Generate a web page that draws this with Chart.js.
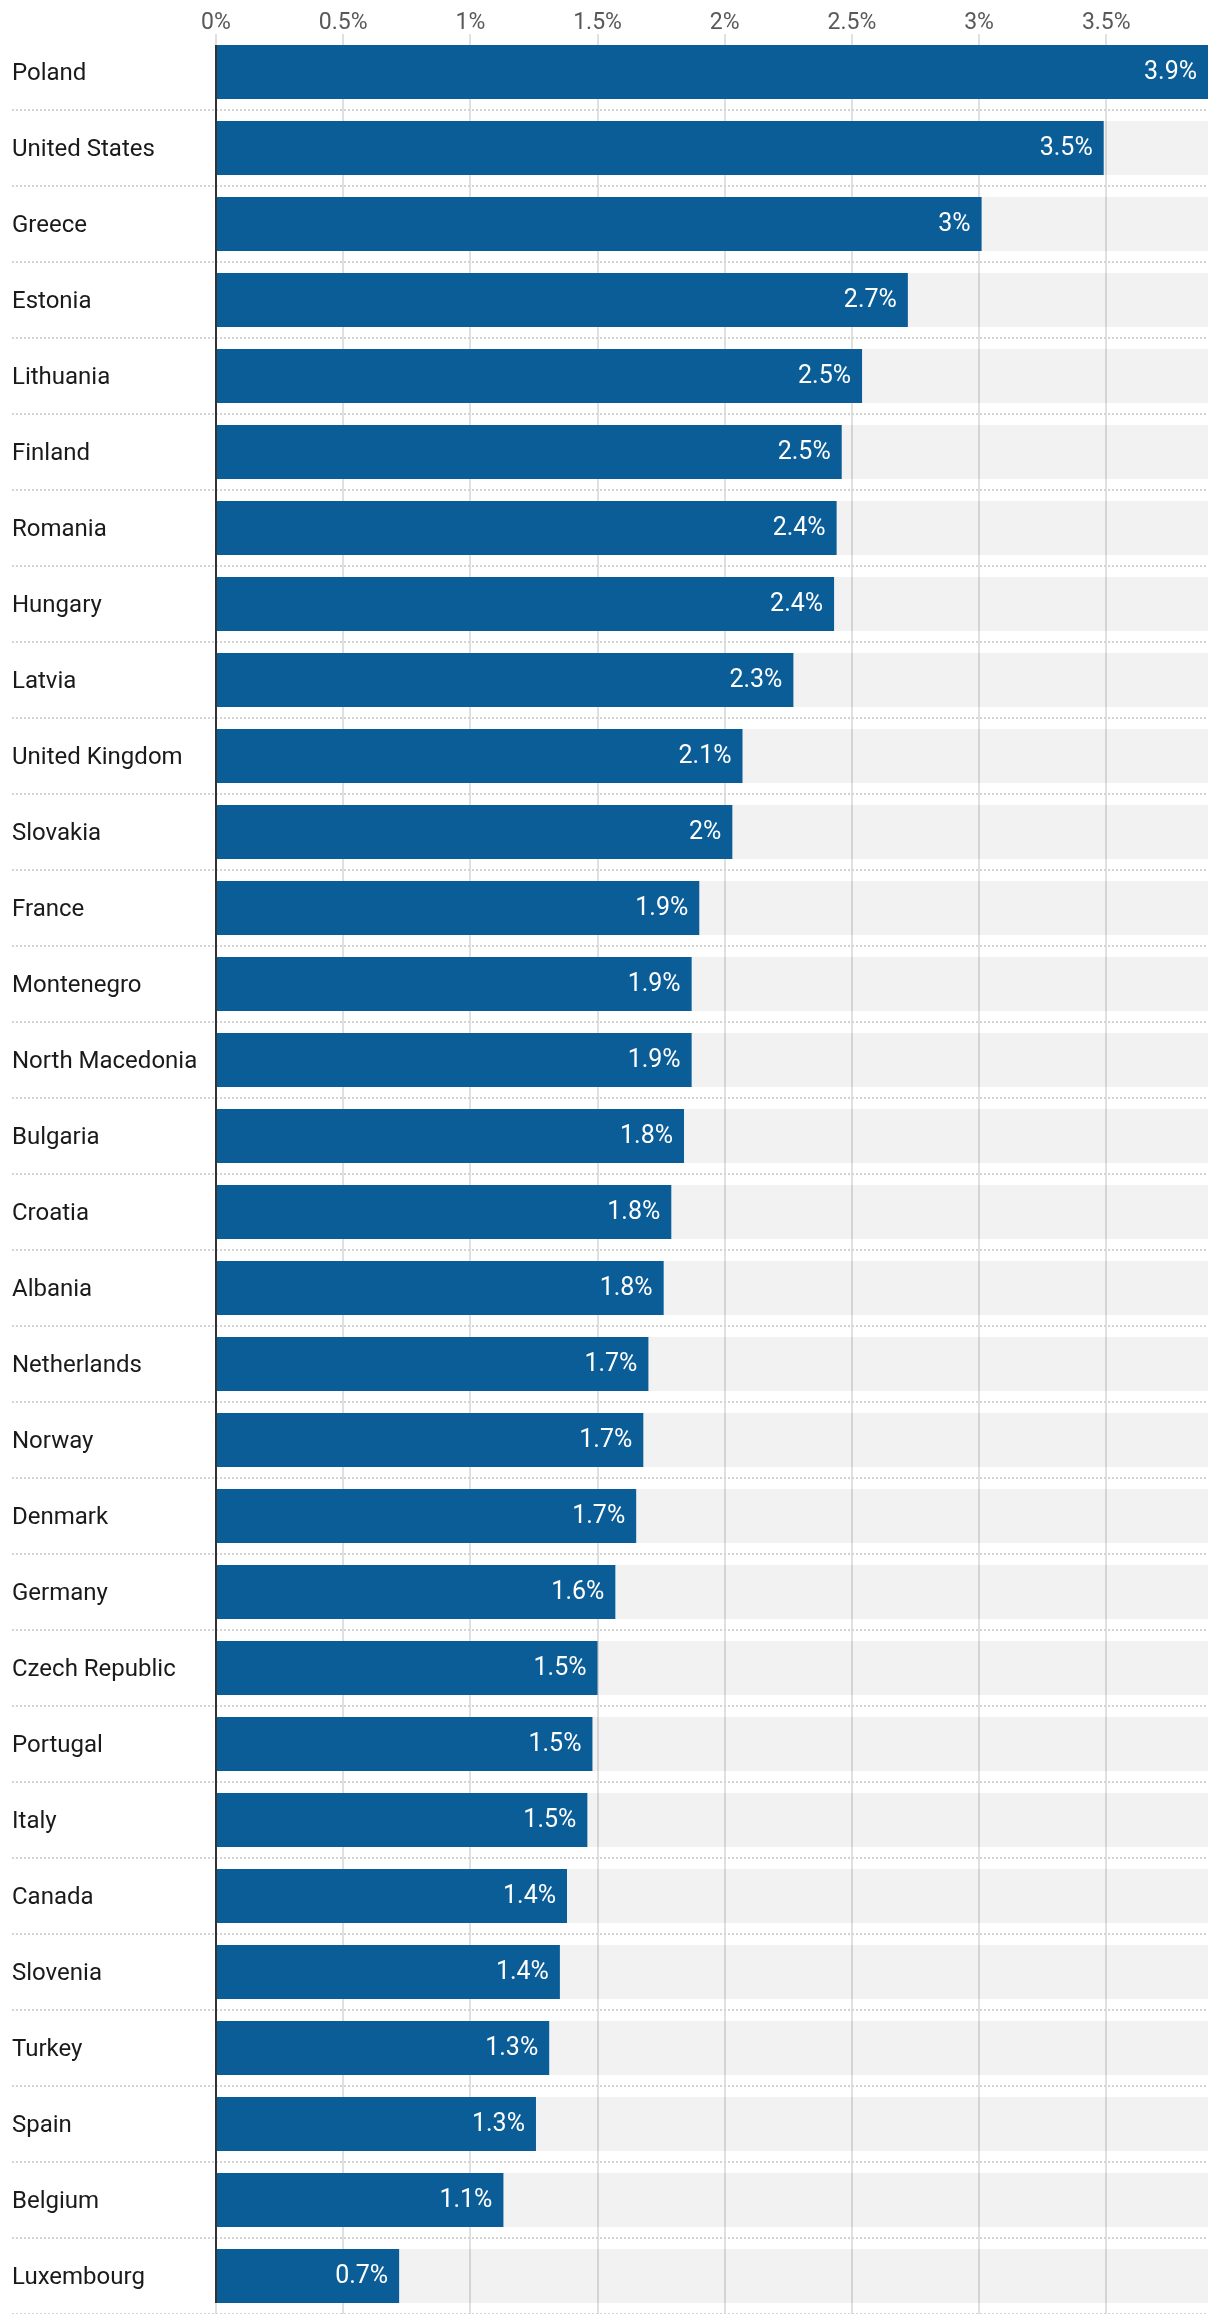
<!DOCTYPE html>
<html>
<head>
<meta charset="utf-8">
<script src="https://cdn.jsdelivr.net/npm/chart.js@4/dist/chart.umd.min.js"></script>
<style>
  html, body { margin: 0; padding: 0; background: #fff; }
  #wrap { width: 1220px; height: 2314px; position: relative; }
</style>
</head>
<body>
<div id="wrap"><canvas id="chart"></canvas></div>
<script>
// inflation by country, %
const countries = [
  'Poland', 'United States', 'Greece', 'Estonia', 'Lithuania', 'Finland',
  'Romania', 'Hungary', 'Latvia', 'United Kingdom', 'Slovakia', 'France',
  'Montenegro', 'North Macedonia', 'Bulgaria', 'Croatia', 'Albania',
  'Netherlands', 'Norway', 'Denmark', 'Germany', 'Czech Republic',
  'Portugal', 'Italy', 'Canada', 'Slovenia', 'Turkey', 'Spain', 'Belgium',
  'Luxembourg'
];
const values = [
  3.9, 3.49, 3.01, 2.72, 2.54, 2.46,
  2.44, 2.43, 2.27, 2.07, 2.03, 1.9,
  1.87, 1.87, 1.84, 1.79, 1.76,
  1.7, 1.68, 1.652, 1.57, 1.5,
  1.48, 1.46, 1.38, 1.352, 1.31, 1.258, 1.13,
  0.72
];
const tickStep = 0.5;

const maxValue = Math.max(...values);
const FONT = 'Roboto, "Noto Sans", sans-serif';

const fmt = v => (+v.toFixed(1)) + '%';

// value labels inside bar ends + axis line along the bars
const barLabels = {
  id: 'barLabels',
  afterDatasetsDraw(chart) {
    const ctx = chart.ctx;
    const meta = chart.getDatasetMeta(0);
    ctx.save();
    ctx.font = '25px ' + FONT;
    ctx.fillStyle = '#ffffff';
    ctx.textAlign = 'right';
    ctx.textBaseline = 'middle';
    meta.data.forEach((bar, i) => {
      ctx.fillText(fmt(values[i]), bar.x - 11, bar.y + 1);
    });
    const first = meta.data[0], last = meta.data[meta.data.length - 1];
    const x0 = chart.scales.x.getPixelForValue(0);
    ctx.strokeStyle = '#333333';
    ctx.lineWidth = 2;
    ctx.beginPath();
    ctx.moveTo(x0, first.y - first.height / 2);
    ctx.lineTo(x0, last.y + last.height / 2);
    ctx.stroke();
    ctx.restore();
  }
};

const gridColor = c => (c.index === 0 ? 'rgba(0,0,0,0)' : '#d4d4d4');

new Chart(document.getElementById('chart'), {
  type: 'bar',
  data: {
    labels: countries,
    datasets: [
      {
        data: values,
        backgroundColor: '#0b5d98',
        categoryPercentage: 1,
        barPercentage: 0.71,
        grouped: false,
        order: 0
      },
      {
        data: values.map(() => maxValue),
        backgroundColor: 'rgba(0,0,0,0.05)',
        categoryPercentage: 1,
        barPercentage: 0.71,
        grouped: false,
        order: 1
      }
    ]
  },
  options: {
    indexAxis: 'y',
    responsive: true,
    maintainAspectRatio: false,
    animation: false,
    layout: { padding: { left: 12, right: 12, top: 0, bottom: 0 } },
    plugins: {
      legend: { display: false },
      tooltip: { enabled: false }
    },
    scales: {
      x: {
        position: 'top',
        min: 0,
        max: maxValue,
        afterBuildTicks: s => {
          s.ticks = s.ticks.filter(t => Math.abs(t.value / tickStep - Math.round(t.value / tickStep)) < 1e-6);
        },
        afterFit: s => { s.height = 34; },
        ticks: {
          stepSize: tickStep,
          padding: -3,
          color: '#595959',
          font: { family: FONT, size: 23 },
          callback: v => v + '%'
        },
        grid: { color: '#e0e0e0', lineWidth: 2, drawTicks: false },
        border: { display: false }
      },
      y: {
        afterFit: s => {
          s.width = 204;
          s.paddingTop = 0;
          s.paddingBottom = 0;
        },
        ticks: {
          crossAlign: 'far',
          padding: 0,
          labelOffset: 2,
          color: '#1a1a1a',
          font: { family: FONT, size: 24 }
        },
        grid: {
          offset: true,
          color: gridColor,
          lineWidth: 2,
          drawTicks: true,
          tickLength: 204,
          tickColor: gridColor,
          tickWidth: 2,
          tickBorderDash: [2, 2]
        },
        border: { display: false, dash: [2, 2] }
      }
    }
  },
  plugins: [barLabels]
});
</script>
</body>
</html>
